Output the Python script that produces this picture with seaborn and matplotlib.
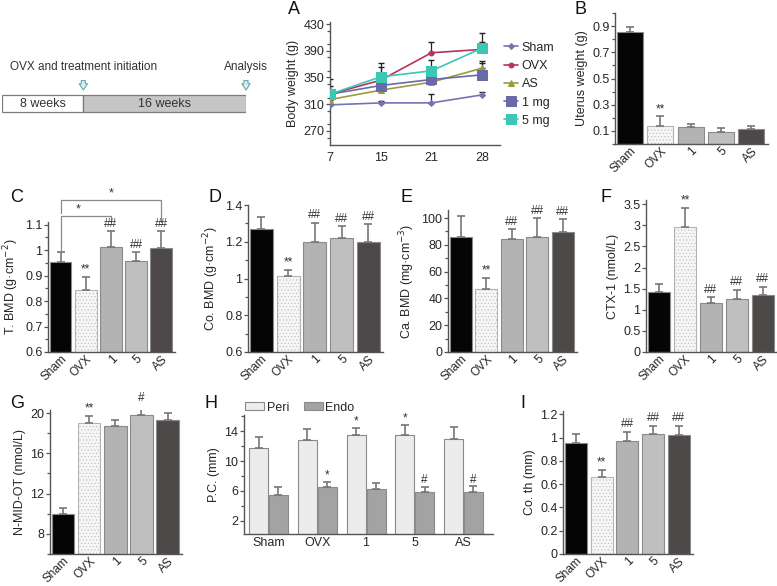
import numpy as np
import pandas as pd
import seaborn as sns
import matplotlib.pyplot as plt
from matplotlib.ticker import MultipleLocator

sns.set_style('white')
plt.rcParams['font.family'] = ['Liberation Sans', 'DejaVu Sans']
plt.rcParams['hatch.linewidth'] = 0.35

# ---- data ----
groups = ['Sham', 'OVX', '1', '5', 'AS']
bar_colors = ['#050505', '#f6f6f6', '#b3b3b3', '#bfbfbf', '#4d4847']

days = ['7', '15', '21', '28']
bw_series = ['Sham', 'OVX', 'AS', '1 mg', '5 mg']
bw_sham = [309, 312, 312, 324]
bw_ovx = [325, 346, 387, 392]
bw_as = [317, 331, 343, 364]
bw_1mg = [325, 338, 347, 354]
bw_5mg = [325, 351, 360, 394]
bw_err_sham = [3, 3, 14, 4]
bw_err_ovx = [22, 20, 16, 11]
bw_err_as = [3, 8, 4, 8]
bw_err_1mg = [4, 6, 5, 20]
bw_err_5mg = [12, 20, 16, 22]

uterus = [0.855, 0.14, 0.13, 0.095, 0.115]
uterus_err = [0.04, 0.07, 0.025, 0.025, 0.025]
uterus_sig = ['', '**', '', '', '']

tbmd = [0.952, 0.845, 1.012, 0.958, 1.007]
tbmd_err = [0.04, 0.05, 0.063, 0.035, 0.066]
tbmd_sig = ['', '**', '##', '##', '##']

cobmd = [1.27, 1.012, 1.2, 1.222, 1.197]
cobmd_err = [0.065, 0.033, 0.103, 0.062, 0.098]
cobmd_sig = ['', '**', '##', '##', '##']

cabmd = [85.5, 47, 84, 86, 89.5]
cabmd_err = [16, 8, 7.5, 14, 9.5]
cabmd_sig = ['', '**', '##', '##', '##']

ctx = [1.41, 2.95, 1.15, 1.25, 1.35]
ctx_err = [0.2, 0.45, 0.15, 0.23, 0.2]
ctx_sig = ['', '**', '##', '##', '##']

nmid = [10.0, 19.0, 18.75, 19.85, 19.3]
nmid_err = [0.6, 0.7, 0.6, 0.9, 0.7]
nmid_sig = ['', '**', '', '#', '']

peri = [11.7, 12.8, 13.5, 13.5, 13.0]
peri_err = [1.5, 1.5, 0.9, 1.3, 1.6]
peri_sig = ['', '', '*', '*', '']
endo = [5.5, 6.5, 6.2, 5.9, 5.8]
endo_err = [1.0, 0.7, 0.9, 0.6, 0.8]
endo_sig = ['', '*', '', '#', '#']

coth = [0.955, 0.66, 0.97, 1.03, 1.02]
coth_err = [0.075, 0.06, 0.08, 0.075, 0.085]
coth_sig = ['', '**', '##', '##', '##']

phases = ['8 weeks', '16 weeks']
phase_weeks = [8, 16]

W, H = 777, 586
fig = plt.figure(figsize=(W / 100, H / 100), dpi=100)


def add_ax(left, top, right, bottom):
    return fig.add_axes([left / W, 1 - bottom / H, (right - left) / W, (bottom - top) / H])


def style(ax):
    sns.despine(ax=ax)
    for s in ['left', 'bottom']:
        ax.spines[s].set_color('#555555')
        ax.spines[s].set_linewidth(1.0)
    ax.tick_params(axis='y', direction='out', length=3, width=0.9, color='#555555',
                   labelsize=9, pad=1, left=True, which='both')
    ax.tick_params(axis='y', which='minor', length=2)
    ax.tick_params(axis='x', length=0, labelsize=9, pad=2)


def bar_panel(ax, vals, errs, sigs, ylim, major, ylabel, rotate=True):
    df = pd.DataFrame({'g': groups, 'v': vals})
    sns.barplot(data=df, x='g', y='v', hue='g', palette=bar_colors, ax=ax,
                width=0.86, legend=False, edgecolor='#8a8a8a', linewidth=0.8)
    ax.patches[1].set_hatch('.....')
    ax.patches[1].set_edgecolor('#b4b4b4')
    ax.errorbar(range(5), vals, yerr=[np.zeros(5), errs], fmt='none', ecolor='#777777',
                elinewidth=1.2, capsize=3, capthick=1.2)
    span = ylim[1] - ylim[0]
    for i, (v, e, s) in enumerate(zip(vals, errs, sigs)):
        if s:
            ax.text(i, v + e + span * 0.01, s, ha='center', va='bottom', fontsize=8.5, color='#333333')
    ax.set_ylim(*ylim)
    ax.set_xlim(-0.5, 4.55)
    ax.yaxis.set_major_locator(MultipleLocator(major))
    ax.yaxis.set_minor_locator(MultipleLocator(major / 2))
    ax.set_xlabel('')
    ax.set_ylabel(ylabel, fontsize=9, labelpad=3)
    style(ax)
    if rotate:
        ax.tick_params(axis='x', labelsize=8.5, pad=1)
        for t in ax.get_xticklabels():
            t.set_rotation(45)
            t.set_ha('right')
            t.set_rotation_mode('anchor')
    ax.yaxis.set_major_formatter(plt.FuncFormatter(lambda x, p: f'{x:g}'))


# ---- timeline ----
axt = add_ax(2, 55, 246, 115)
axt.barh([0.19], phase_weeks, left=[0, 8], height=0.28, color=['white', '#c6c6c6'],
         edgecolor='#7a7a7a', linewidth=0.9)
for lbl, w, l in zip(phases, phase_weeks, [0, 8]):
    axt.text(l + w / 2, 0.19, lbl, ha='center', va='center', fontsize=9, color='#333333')
for xw, txt in [(8, 'OVX and treatment initiation'), (24, 'Analysis')]:
    axt.text(xw, 0.8, txt, ha='center', va='center', fontsize=8.5, color='#333333', clip_on=False)
    axt.annotate('', xy=(xw, 0.37), xytext=(xw, 0.62),
                 arrowprops=dict(arrowstyle='simple,head_width=0.6,head_length=0.45,tail_width=0.3',
                                 fc='#d8eef0', ec='#6aa6ae', lw=0.8), annotation_clip=False)
axt.set_xlim(0, 24)
axt.set_ylim(0, 1)
axt.axis('off')

# ---- A body weight ----
axA = add_ax(330, 22, 500, 145)
bw_vals = [bw_sham, bw_ovx, bw_as, bw_1mg, bw_5mg]
bw_errs = [bw_err_sham, bw_err_ovx, bw_err_as, bw_err_1mg, bw_err_5mg]
bw_colors = ['#7474b4', '#b8325e', '#9c9c3a', '#6a6aa8', '#3cc6b4']
bw_markers = ['D', 'o', '^', 's', 's']
bw_msize = [3, 3.5, 4, 7, 7.5]
pos = np.arange(4)
for name, vals, errs, c, m, ms in zip(bw_series, bw_vals, bw_errs, bw_colors, bw_markers, bw_msize):
    axA.errorbar(pos, vals, yerr=[np.zeros(4), errs], fmt='none', ecolor='#222222',
                 elinewidth=0.9, capsize=2, zorder=1)
for name, vals, c, m, ms in zip(bw_series, bw_vals, bw_colors, bw_markers, bw_msize):
    sns.lineplot(x=pos, y=vals, ax=axA, color=c, marker=m, markersize=ms, linewidth=1.2,
                 markeredgecolor=c, label=name, zorder=3)
axA.set_xticks(pos)
axA.set_xticklabels(days)
axA.set_xlim(0, 3.35)
axA.set_ylim(249, 433)
axA.set_yticks([270, 310, 350, 390, 430])
axA.yaxis.set_minor_locator(MultipleLocator(20))
axA.set_ylabel('Body weight (g)', fontsize=9, labelpad=3)
style(axA)
axA.tick_params(axis='x', length=3, direction='out', color='#555555', pad=2)
axA.legend(loc='upper left', bbox_to_anchor=(0.98, 0.9), frameon=False, fontsize=9,
           handlelength=1.1, handletextpad=0.3, labelspacing=0.5, borderaxespad=0.2)

# ---- B-I bar panels ----
axB = add_ax(615, 13, 768, 144)
bar_panel(axB, uterus, uterus_err, uterus_sig, (0, 1.0), 0.2, 'Uterus weight (g)')
axB.set_yticks([0.1, 0.3, 0.5, 0.7, 0.9])
axB.yaxis.set_minor_locator(MultipleLocator(0.1))

axC = add_ax(48, 222, 175, 352)
bar_panel(axC, tbmd, tbmd_err, tbmd_sig, (0.6, 1.11), 0.1, 'T. BMD (g·cm$^{-2}$)')
for x0, x1, y, drop0, drop1 in [(0, 2, 1.132, 1.0, 1.11), (0, 4, 1.195, 1.145, 1.11)]:
    axC.plot([x0, x0, x1, x1], [drop0, y, y, drop1], color='#8a8a8a', lw=0.9, clip_on=False)
    axC.text((x0 + x1) / 2 - (0.3 if x1 == 2 else 0), y + 0.005, '*', ha='center', va='bottom',
             fontsize=9, color='#333333', clip_on=False)

axD = add_ax(248, 205, 383, 352)
bar_panel(axD, cobmd, cobmd_err, cobmd_sig, (0.6, 1.4), 0.2, 'Co. BMD (g·cm$^{-2}$)')

axE = add_ax(448, 210, 577, 352)
bar_panel(axE, cabmd, cabmd_err, cabmd_sig, (0, 106), 20, 'Ca. BMD (mg·cm$^{-3}$)')

axF = add_ax(646, 200, 777, 352)
bar_panel(axF, ctx, ctx_err, ctx_sig, (0, 3.6), 0.5, 'CTX-1 (nmol/L)')
axF.yaxis.set_minor_locator(MultipleLocator(0.5))

axG = add_ax(50, 410, 182, 554)
bar_panel(axG, nmid, nmid_err, nmid_sig, (6, 20.3), 4, 'N-MID-OT (nmol/L)')

axH = add_ax(244, 415, 493, 534)
dfH = pd.DataFrame({'g': groups * 2, 'v': peri + endo, 'part': ['Peri'] * 5 + ['Endo'] * 5})
sns.barplot(data=dfH, x='g', y='v', hue='part', palette=['#ececec', '#a3a3a3'], ax=axH,
            width=0.82, gap=0.05, edgecolor='#8a8a8a', linewidth=0.8)
offs = 0.2
for vals, errs, sigs, d in [(peri, peri_err, peri_sig, -offs), (endo, endo_err, endo_sig, offs)]:
    xs = np.arange(5) + d
    axH.errorbar(xs, vals, yerr=[np.zeros(5), errs], fmt='none', ecolor='#777777',
                 elinewidth=1.2, capsize=3, capthick=1.2)
    for x, v, e, s in zip(xs, vals, errs, sigs):
        if s:
            axH.text(x, v + e + 0.1, s, ha='center', va='bottom', fontsize=8.5, color='#333333')
axH.set_ylim(0.2, 16.2)
axH.set_xlim(-0.5, 4.6)
axH.set_yticks([2, 6, 10, 14])
axH.yaxis.set_minor_locator(MultipleLocator(2))
axH.set_xlabel('')
axH.set_ylabel('P.C. (mm)', fontsize=9, labelpad=3)
style(axH)
axH.legend(loc='lower left', bbox_to_anchor=(0.0, 1.0), ncol=2, frameon=False, fontsize=9,
           handlelength=1.5, handleheight=0.6, handletextpad=0.2, columnspacing=1.2,
           borderaxespad=0.0, borderpad=0.1)

axI = add_ax(563, 411, 693, 554)
bar_panel(axI, coth, coth_err, coth_sig, (0, 1.23), 0.2, 'Co. th (mm)')
axI.yaxis.set_minor_locator(MultipleLocator(0.2))

# panel letters
for lt, x, y in [('A', 288, 10), ('B', 575, 9), ('C', 10, 197), ('D', 208, 197), ('E', 400, 197),
                 ('F', 601, 197), ('G', 10, 404), ('H', 205, 404), ('I', 520, 404)]:
    fig.text(x / W, 1 - y / H, lt, ha='left', va='center', fontsize=13, color='#111111')

fig.savefig('out.png', dpi=100)
